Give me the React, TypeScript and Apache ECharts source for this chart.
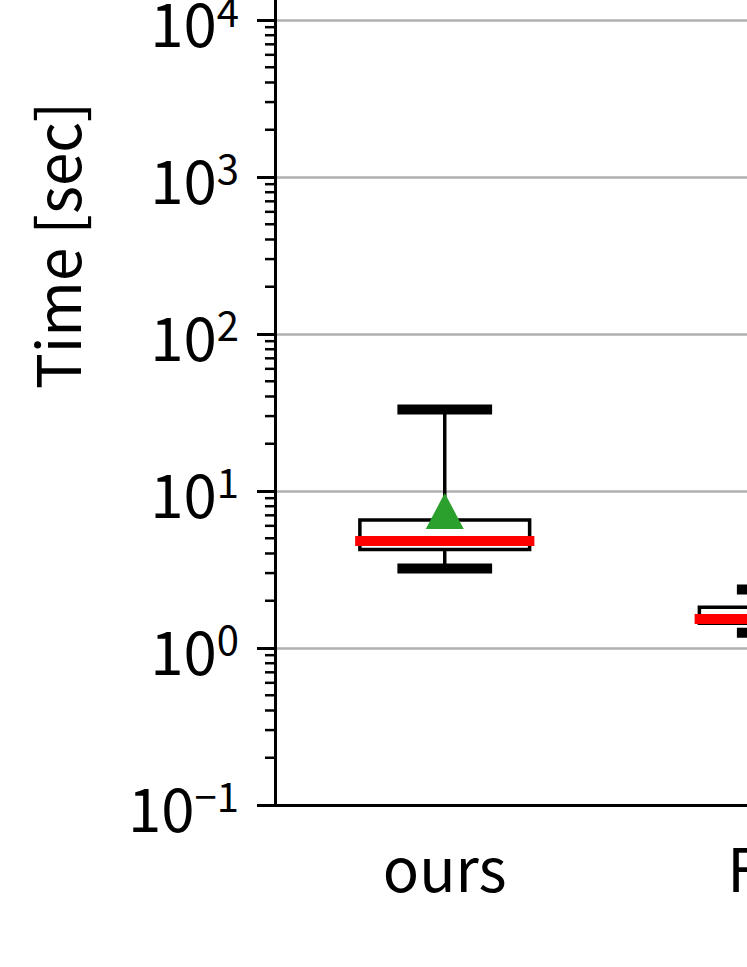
import React, { useEffect, useRef } from "react";
import * as echarts from "echarts";

const categories = ["ours", "Fast"];
const whiskerLow = [3.21, 1.25];
const q1 = [4.24, 1.44];
const medians = [4.81, 1.53];
const q3 = [6.53, 1.82];
const whiskerHigh = [33.0, 2.36];
const means = [7.46, 1.62];

const yMin = 0.1;
const yMax = 1e6;
const decades = [-1, 0, 1, 2, 3, 4, 5];
const minorMultipliers = [2, 3, 4, 5, 6, 7, 8, 9];

const FONT = "Noto Sans CJK JP";

export default function App() {
  const ref = useRef<HTMLDivElement>(null);
  useEffect(() => {
    if (!ref.current) return;
    const chart = echarts.init(ref.current, null, { renderer: "svg" });
    const minorTicks: number[][] = [];
    decades.forEach((d) => {
      minorMultipliers.forEach((m) => minorTicks.push([0, m * Math.pow(10, d)]));
    });
    const boxData = categories.map((_, i) => [i, whiskerLow[i], q1[i], medians[i], q3[i], whiskerHigh[i]]);
    const sup = (e: number) => (e < 0 ? "\u2212" + -e : String(e));
    chart.setOption({
      animation: false,
      grid: { left: 275, right: -207, top: -294, bottom: 162, containLabel: false, outerBoundsMode: "none" },
      xAxis: {
        type: "category",
        data: categories,
        boundaryGap: true,
        axisLine: { lineStyle: { color: "#000", width: 3 } },
        axisTick: { alignWithLabel: true, length: 18, lineStyle: { color: "#000", width: 3 } },
        axisLabel: { color: "#000", fontFamily: FONT, fontSize: 60, lineHeight: 60, margin: 30 },
        splitLine: { show: false },
      },
      yAxis: {
        type: "log",
        logBase: 10,
        min: yMin,
        max: yMax,
        splitNumber: 7,
        name: "Time [sec]",
        nameLocation: "middle",
        nameRotate: 90,
        nameGap: 191,
        nameTextStyle: { color: "#000", fontFamily: FONT, fontSize: 60, padding: [0, 0, 0, 20] },
        axisLine: { show: true, lineStyle: { color: "#000", width: 3 } },
        axisTick: { show: true, length: 18, lineStyle: { color: "#000", width: 3 } },
        axisLabel: {
          margin: 36,
          formatter: (v: number) => {
            const e = Math.round(Math.log10(v));
            return e > 4 ? "" : `{b|10}{s|${sup(e)}}`;
          },
          rich: {
            b: { color: "#000", fontFamily: FONT, fontSize: 60, lineHeight: 60 },
            s: { color: "#000", fontFamily: FONT, fontSize: 40, lineHeight: 36, verticalAlign: "top" },
          },
        },
        splitLine: { show: true, lineStyle: { color: "#b0b0b0", width: 2.5 } },
      },
      series: [
        {
          type: "custom",
          silent: true,
          data: minorTicks,
          encode: { x: 0, y: 1 },
          renderItem: (params: any, api: any) => {
            const y = api.coord([0, api.value(1)])[1];
            const x0 = params.coordSys.x;
            return {
              type: "line",
              shape: { x1: x0 - 10, y1: y, x2: x0, y2: y },
              style: { stroke: "#000", lineWidth: 2.5 },
            };
          },
        },
        {
          type: "custom",
          silent: true,
          data: boxData,
          encode: { x: 0, y: [1, 2, 3, 4, 5] },
          renderItem: (params: any, api: any) => {
            const i = api.value(0);
            const cs = params.coordSys;
            const band = cs.width / categories.length;
            const [cx, yLow] = api.coord([i, api.value(1)]);
            const yQ1 = api.coord([i, api.value(2)])[1];
            const yMed = api.coord([i, api.value(3)])[1];
            const yQ3 = api.coord([i, api.value(4)])[1];
            const yHigh = api.coord([i, api.value(5)])[1];
            const boxW = band * 0.5;
            const capW = band * 0.279;
            const medW = band * 0.528;
            const black = { stroke: "#000", lineWidth: 3.5 };
            return {
              type: "group",
              children: [
                { type: "line", shape: { x1: cx, y1: yQ3, x2: cx, y2: yHigh }, style: black },
                { type: "line", shape: { x1: cx, y1: yQ1, x2: cx, y2: yLow }, style: black },
                { type: "line", shape: { x1: cx - capW / 2, y1: yHigh, x2: cx + capW / 2, y2: yHigh }, style: { stroke: "#000", lineWidth: 10 } },
                { type: "line", shape: { x1: cx - capW / 2, y1: yLow, x2: cx + capW / 2, y2: yLow }, style: { stroke: "#000", lineWidth: 10 } },
                { type: "rect", shape: { x: cx - boxW / 2, y: yQ3, width: boxW, height: yQ1 - yQ3 }, style: { fill: "none", stroke: "#000", lineWidth: 3.5 } },
                { type: "line", shape: { x1: cx - medW / 2, y1: yMed, x2: cx + medW / 2, y2: yMed }, style: { stroke: "#ff0000", lineWidth: 10 } },
              ],
            };
          },
        },
        {
          type: "scatter",
          silent: true,
          data: categories.map((_, i) => [i, means[i]]),
          symbol: "triangle",
          symbolSize: [38, 36],
          itemStyle: { color: "#2ca02c", opacity: 1 },
          z: 5,
        },
      ],
    });
    return () => chart.dispose();
  }, []);
  return <div ref={ref} style={{ width: 747, height: 967, position: "absolute", left: 0, top: 0 }} />;
}
